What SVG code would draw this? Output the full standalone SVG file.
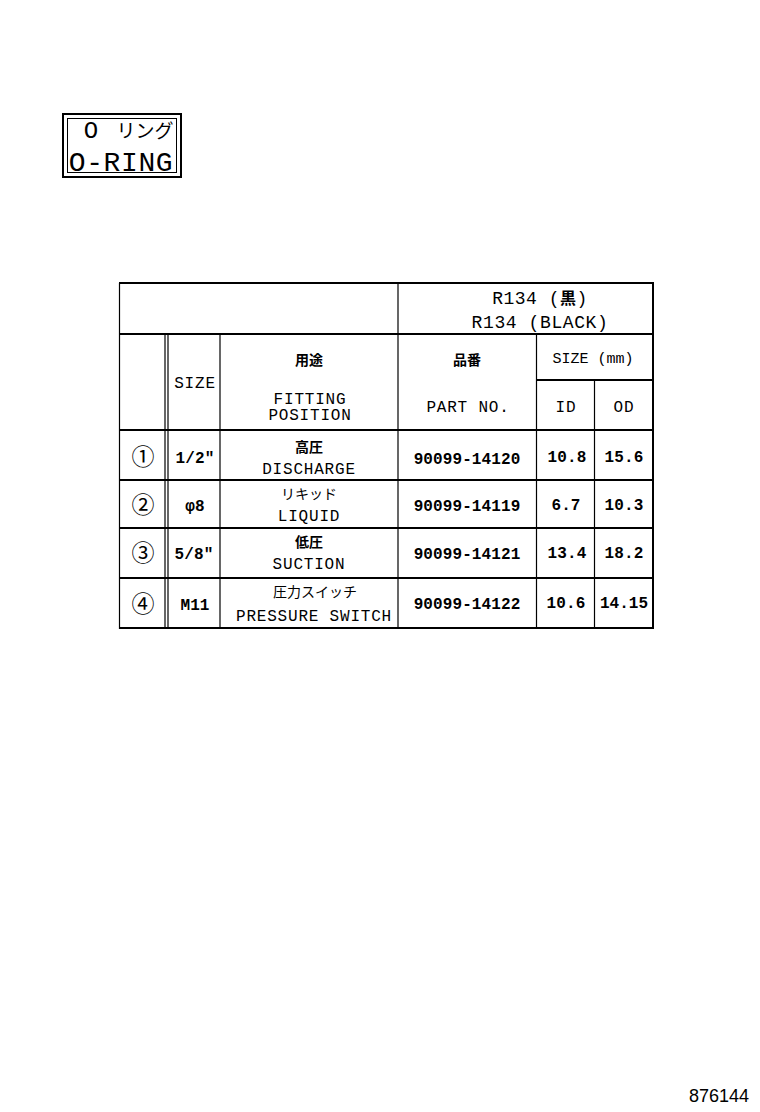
<svg xmlns="http://www.w3.org/2000/svg" width="760" height="1112" viewBox="0 0 760 1112">
<style>
.t{font-family:"Liberation Mono","DejaVu Sans Mono","Noto Sans CJK JP",monospace;fill:#000;text-anchor:middle}
.en{font-size:16px;letter-spacing:0.8px}
.num{font-size:16px;letter-spacing:0.1px;font-weight:bold}
.jp{font-family:"Noto Sans CJK JP",sans-serif;font-size:14px;font-weight:bold;fill:#000;text-anchor:middle}
.c{font-family:"Noto Sans CJK JP",sans-serif;font-size:23px;fill:#000;text-anchor:middle}
.h{stroke:#000;stroke-width:2;fill:none}
.v{stroke:#000;stroke-width:1.2;fill:none}
</style>
<rect width="760" height="1112" fill="#fff"/>
<g id="title-box">
<rect x="63" y="114" width="118" height="63" fill="none" stroke="#000" stroke-width="2"/>
<rect x="67.5" y="118.5" width="109" height="54" fill="none" stroke="#000" stroke-width="1"/>
<text x="91" y="138" class="t" style="font-size:24px">O</text>
<text x="145" y="138" class="jp" style="font-size:19px;font-weight:normal">リング</text>
<text x="121" y="171" class="t" style="font-size:28px;letter-spacing:0.6px">O-RING</text>
</g>
<g id="table-lines">
<line x1="119" y1="283" x2="654" y2="283" class="h"/>
<line x1="119" y1="334" x2="654" y2="334" class="h"/>
<line x1="536" y1="380" x2="654" y2="380" class="h"/>
<line x1="119" y1="430" x2="654" y2="430" class="h"/>
<line x1="119" y1="480" x2="654" y2="480" class="h"/>
<line x1="119" y1="528" x2="654" y2="528" class="h"/>
<line x1="119" y1="578" x2="654" y2="578" class="h"/>
<line x1="119" y1="628" x2="654" y2="628" class="h"/>
<line x1="119.5" y1="283" x2="119.5" y2="629" class="v"/>
<line x1="653" y1="283" x2="653" y2="629" class="h"/>
<line x1="398" y1="283" x2="398" y2="629" class="v"/>
<line x1="165" y1="334" x2="165" y2="629" class="v"/>
<line x1="168" y1="334" x2="168" y2="629" class="v"/>
<line x1="220" y1="334" x2="220" y2="629" class="v"/>
<line x1="536.5" y1="334" x2="536.5" y2="629" class="v"/>
<line x1="594.5" y1="380" x2="594.5" y2="629" class="v"/>
</g>
<g id="header">
<text x="540" y="304" class="t" style="font-size:18px;letter-spacing:0.5px">R134 (<tspan style="font-family:'Noto Sans CJK JP',sans-serif;font-size:16px;font-weight:bold">黒</tspan>)</text>
<text x="540" y="328" class="t" style="font-size:18px;letter-spacing:0.6px">R134 (BLACK)</text>
<text x="309" y="365" class="jp">用途</text>
<text x="195" y="388" class="t en">SIZE</text>
<text x="310" y="404" class="t en">FITTING</text>
<text x="310" y="420" class="t en">POSITION</text>
<text x="467" y="365" class="jp">品番</text>
<text x="593" y="363" class="t" style="font-size:15px">SIZE (mm)</text>
<text x="468" y="412" class="t en">PART NO.</text>
<text x="566" y="412" class="t en">ID</text>
<text x="624" y="412" class="t en">OD</text>
</g>
<g id="row1">
<text x="143" y="465" class="c">①</text>
<text x="195" y="463" class="t num">1/2"</text>
<text x="309" y="452" class="jp">高圧</text>
<text x="309" y="474" class="t en">DISCHARGE</text>
<text x="467" y="464" class="t num">90099-14120</text>
<text x="567" y="462" class="t num">10.8</text>
<text x="624" y="462" class="t num">15.6</text>
</g>
<g id="row2">
<text x="143" y="513" class="c">②</text>
<text x="195" y="511" class="t num">φ8</text>
<text x="309" y="499" class="jp" style="font-weight:normal">リキッド</text>
<text x="309" y="521" class="t en">LIQUID</text>
<text x="467" y="511" class="t num">90099-14119</text>
<text x="566" y="510" class="t num">6.7</text>
<text x="624" y="510" class="t num">10.3</text>
</g>
<g id="row3">
<text x="143" y="561" class="c">③</text>
<text x="194" y="559" class="t num">5/8"</text>
<text x="309" y="547" class="jp">低圧</text>
<text x="309" y="569" class="t en">SUCTION</text>
<text x="467" y="559" class="t num">90099-14121</text>
<text x="567" y="558" class="t num">13.4</text>
<text x="624" y="558" class="t num">18.2</text>
</g>
<g id="row4">
<text x="143" y="612" class="c">④</text>
<text x="195" y="610" class="t num">M11</text>
<text x="315" y="597" class="jp" style="font-weight:normal">圧力スイッチ</text>
<text x="314" y="621" class="t en">PRESSURE SWITCH</text>
<text x="467" y="609" class="t num">90099-14122</text>
<text x="566" y="608" class="t num">10.6</text>
<text x="624" y="608" class="t num" style="letter-spacing:0">14.15</text>
</g>
<g id="footer">
<text x="749" y="1102" style="font-family:'Liberation Sans',sans-serif;font-size:18px;text-anchor:end">876144</text>
</g>
</svg>
